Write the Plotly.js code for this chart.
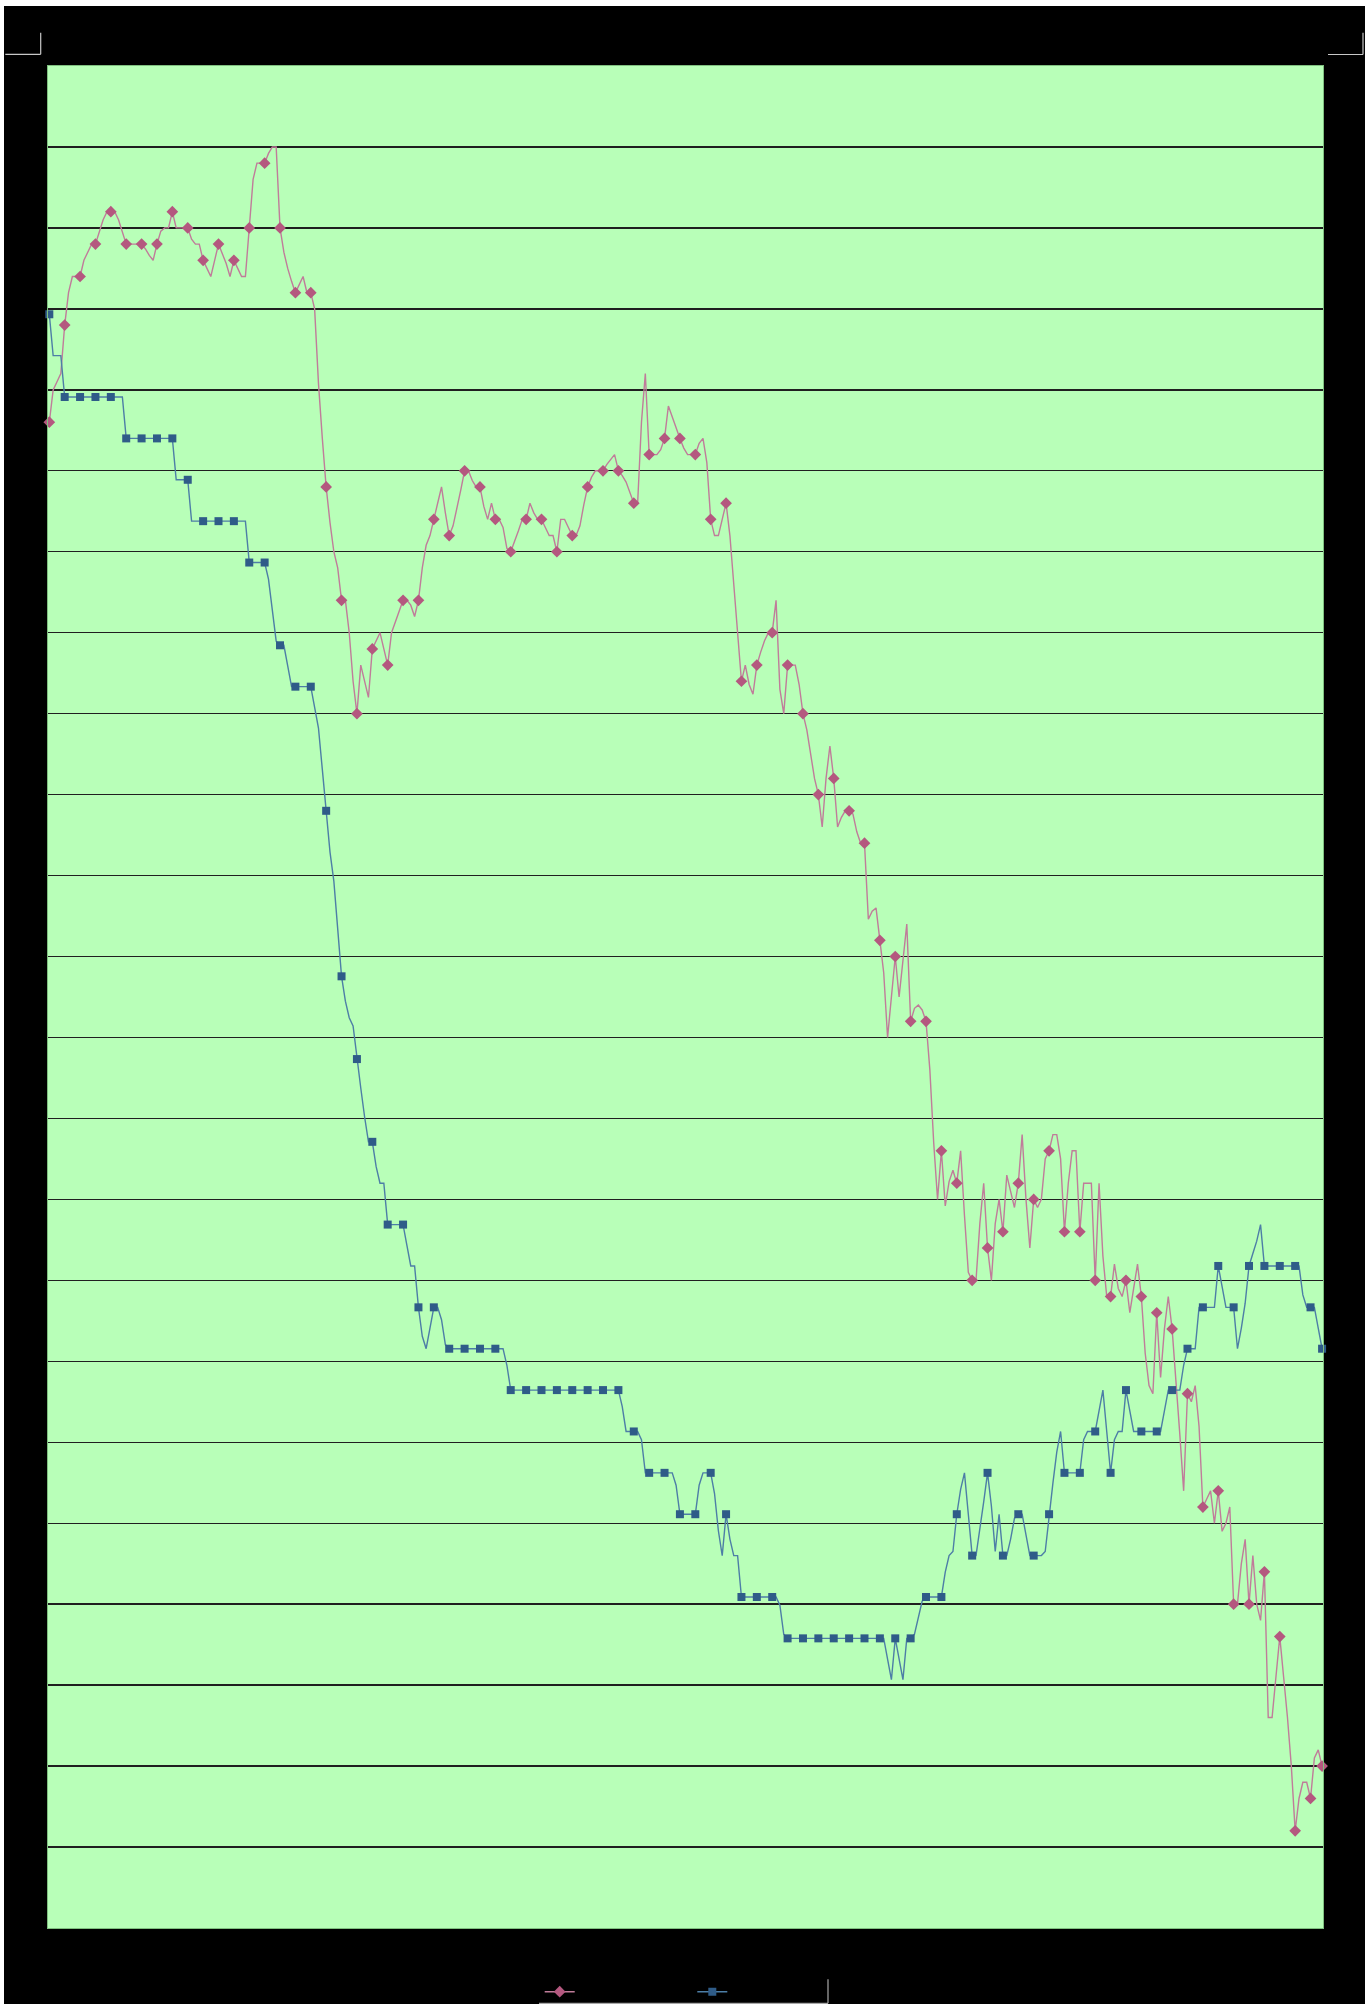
<!DOCTYPE html>
<html>
<head>
<meta charset="utf-8">
<script src="https://cdn.plot.ly/plotly-3.0.1.min.js"></script>
<style>
html, body { margin:0; padding:0; background:#ffffff; width:1372px; height:2004px; overflow:hidden; }
#chart { position:absolute; left:4px; top:6px; width:1361px; height:1998px; }
</style>
</head>
<body>
<div id="chart"></div>
<script>
// ---- data ----
const pinkSeries = [
  93, 95, 95.5, 96, 99, 101, 102, 102, 102, 103,
  103.5, 104, 104, 104.7, 105.5, 106, 106, 106, 105.5, 104.7,
  104, 104, 104, 104, 104, 103.7, 103.3, 103, 104, 104.8,
  105, 105, 106, 105, 105, 105, 105, 104.3, 104, 104,
  103, 102.5, 102, 103, 104, 103.4, 102.8, 102, 103, 102.5,
  102, 102, 105, 108, 109, 109, 109, 109.6, 110, 110,
  105, 103.5, 102.5, 101.7, 101, 101.5, 102, 101, 101, 100,
  95.4, 92, 89, 86.8, 85, 84, 82, 82, 80, 77,
  75, 78, 77, 76, 79, 79.5, 80, 79, 78, 80,
  80.7, 81.4, 82, 82, 81.7, 81, 82, 84, 85.4, 86,
  87, 88.2, 89, 87.4, 86, 86.6, 87.6, 88.8, 90, 90,
  89.4, 89, 89, 87.8, 87, 88, 87, 87, 86.5, 85.2,
  85, 85.6, 86.3, 87, 87, 88, 87.4, 87, 87, 86.5,
  86, 86, 85, 87, 87, 86.5, 86, 86, 86.6, 87.9,
  89, 89.6, 90, 90, 90, 90.4, 90.7, 91, 90, 89.7,
  89.3, 88.7, 88, 88, 93, 96, 91, 91, 91, 91.3,
  92, 94, 93.3, 92.6, 92, 91.4, 91, 91, 91, 91.7,
  92, 90.5, 87, 86, 86, 87, 88, 86, 83, 80.5,
  77, 78, 76.8, 76.2, 78, 78.8, 79.5, 80, 80, 82,
  76.5, 75, 78, 78, 78, 76.8, 75, 74, 72.5, 71,
  70, 68, 71, 73, 71, 68, 68.6, 69, 69, 68.8,
  67.7, 67, 67, 62.3, 62.8, 63, 61, 59, 55, 57.5,
  60, 57.5, 59.6, 62, 56, 56.8, 57, 56.7, 56, 53,
  48.5, 45, 48, 44.6, 46.1, 46.8, 46, 48, 44, 40.5,
  40, 40, 43.5, 46, 42, 40, 43.5, 45, 43, 46.5,
  45.5, 44.5, 46, 49, 45, 42, 45, 44.5, 45, 47.5,
  48, 49, 49, 47.5, 43, 46, 48, 48, 43, 46,
  46, 46, 40, 46, 41.5, 39, 39, 41, 39.5, 39,
  40, 38, 39.5, 41, 39, 35.5, 33.5, 33, 38, 34,
  37, 39, 37, 34, 30.5, 27, 33, 32.5, 33.5, 31,
  26, 26.5, 27, 25, 27, 24.5, 25, 26, 20, 20,
  22.5, 24, 20, 23, 20, 19, 22, 13, 13, 15.5,
  18, 15.5, 13, 10, 6, 8, 9, 9, 8, 10.5,
  11, 10
];

const blueSeries = [
  39, 38, 38, 38, 37, 37, 37, 37, 37, 37,
  37, 37, 37, 37, 37, 37, 37, 37, 37, 37,
  36, 36, 36, 36, 36, 36, 36, 36, 36, 36,
  36, 36, 36, 35, 35, 35, 35, 34, 34, 34,
  34, 34, 34, 34, 34, 34, 34, 34, 34, 34,
  34, 34, 33, 33, 33, 33, 33, 32.6, 31.8, 31.1,
  31, 31, 30.5, 30, 30, 30, 30, 30, 30, 29.5,
  29, 28, 27, 26, 25.3, 24.2, 23, 22.4, 22, 21.8,
  21, 20.3, 19.6, 19, 19, 18.4, 18, 18, 17, 17,
  17, 17, 17, 16.5, 16, 16, 15, 14.3, 14, 14.5,
  15, 15, 14.7, 14.1, 14, 14, 14, 14, 14, 14,
  14, 14, 14, 14, 14, 14, 14, 14, 14, 13.6,
  13, 13, 13, 13, 13, 13, 13, 13, 13, 13,
  13, 13, 13, 13, 13, 13, 13, 13, 13, 13,
  13, 13, 13, 13, 13, 13, 13, 13, 13, 12.6,
  12, 12, 12, 12, 11.8, 11, 11, 11, 11, 11,
  11, 11, 11, 10.7, 10, 10, 10, 10, 10, 10.7,
  11, 11, 11, 10.5, 9.6, 9, 10, 9.4, 9, 9,
  8, 8, 8, 8, 8, 8, 8, 8, 8, 8,
  7.8, 7.1, 7, 7, 7, 7, 7, 7, 7, 7,
  7, 7, 7, 7, 7, 7, 7, 7, 7, 7,
  7, 7, 7, 7, 7, 7, 7, 7, 6.5, 6,
  7, 6.5, 6, 7, 7, 7.1, 7.5, 7.9, 8, 8,
  8, 8, 8, 8.6, 9, 9.1, 10, 10.6, 11, 10,
  9, 9, 9.6, 10.3, 11, 10.2, 9.1, 10, 9, 9,
  9.4, 9.9, 10, 10, 9.5, 9, 9, 9, 9, 9.1,
  10, 10.75, 11.5, 12, 11, 11, 11, 11, 11, 11.8,
  12, 12, 12, 12.5, 13, 12, 11, 11.8, 12, 12,
  13, 12.5, 12, 12, 12, 12, 12, 12, 12, 12,
  12.5, 13, 13, 13, 13, 13.6, 14, 14, 14, 15,
  15, 15, 15, 15, 16, 15.5, 15, 15, 15, 14,
  14.5, 15.1, 16, 16.3, 16.6, 17, 16, 16, 16, 16,
  16, 16, 16, 16, 16, 16, 15.3, 15, 15, 15,
  14.5, 14
];

const seriesNames = ['', ''];
const pointIndex = pinkSeries.map((_, i) => i);

// ---- styling ----
const PINK_LINE = '#c07c9a';
const PINK_MARK = '#b4587f';
const BLUE_LINE = '#4d7ea6';
const BLUE_MARK = '#2f5c88';
const HIDDEN = 'rgba(0,0,0,0)';
const last = pointIndex.length - 1;
const showMark = i => (i % 4 === 0 || i === last);
const pinkMarkColors = pointIndex.map(i => showMark(i) ? PINK_MARK : HIDDEN);
const blueMarkColors = pointIndex.map(i => showMark(i) ? BLUE_MARK : HIDDEN);

const traces = [
  {
    type: 'scatter', mode: 'lines+markers', name: seriesNames[0],
    x: pointIndex, y: pinkSeries, yaxis: 'y', legend: 'legend',
    line: { color: PINK_LINE, width: 1.4 },
    marker: { symbol: 'diamond', size: 9, color: pinkMarkColors, line: { width: 0 } },
    cliponaxis: false, hoverinfo: 'skip'
  },
  {
    type: 'scatter', mode: 'lines+markers', name: seriesNames[1],
    x: pointIndex, y: blueSeries, yaxis: 'y2', legend: 'legend2',
    line: { color: BLUE_LINE, width: 1.4 },
    marker: { symbol: 'square', size: 8, color: blueMarkColors, line: { width: 0 } },
    cliponaxis: false, hoverinfo: 'skip'
  }
];

// pixel helpers for paper coordinates (plot area: x 48..1323, y 66..1928 in page pixels)
const px = v => (v - 48) / 1275;
const py = v => (1928 - v) / 1862;
const MARK = '#c8c8c8';
const FRAME = '#a8a8a8';

const layout = {
  width: 1361, height: 1998,
  margin: { l: 44, r: 42, t: 60, b: 76, pad: 0, autoexpand: false },
  paper_bgcolor: '#000000',
  plot_bgcolor: '#b8ffb8',
  showlegend: true,
  xaxis: {
    range: [-0.34, 331.24], showgrid: false, zeroline: false,
    showticklabels: false, ticks: '', showline: true, mirror: true,
    linecolor: '#7fbf7f', linewidth: 1, fixedrange: true
  },
  yaxis: {
    range: [0, 115], dtick: 5, tick0: 0, showgrid: true,
    gridcolor: '#1f1f1f', gridwidth: 1.4, zeroline: false,
    showticklabels: false, ticks: '', showline: true, mirror: true,
    linecolor: '#7fbf7f', linewidth: 1, fixedrange: true
  },
  yaxis2: {
    range: [0, 45], overlaying: 'y', side: 'right', showgrid: false,
    zeroline: false, showticklabels: false, ticks: '', showline: false,
    fixedrange: true
  },
  legend: {
    x: px(539.7), y: py(1977.2), xanchor: 'left', yanchor: 'top',
    orientation: 'h', bgcolor: 'rgba(0,0,0,0)', borderwidth: 0,
    font: { size: 10, color: '#000000' }, itemwidth: 30
  },
  legend2: {
    x: px(692.3), y: py(1977.2), xanchor: 'left', yanchor: 'top',
    orientation: 'h', bgcolor: 'rgba(0,0,0,0)', borderwidth: 0,
    font: { size: 10, color: '#000000' }, itemwidth: 30
  },
  shapes: [
    // crop marks top-left
    { type: 'line', xref: 'paper', yref: 'paper', x0: px(40.7), x1: px(40.7), y0: py(32.7), y1: py(54.3), line: { color: MARK, width: 1.2 } },
    { type: 'line', xref: 'paper', yref: 'paper', x0: px(5.3), x1: px(40.7), y0: py(54.3), y1: py(54.3), line: { color: MARK, width: 1.2 } },
    // crop marks top-right
    { type: 'line', xref: 'paper', yref: 'paper', x0: px(1363), x1: px(1363), y0: py(32.7), y1: py(54.5), line: { color: MARK, width: 1.2 } },
    { type: 'line', xref: 'paper', yref: 'paper', x0: px(1328), x1: px(1363), y0: py(54.5), y1: py(54.5), line: { color: MARK, width: 1.2 } },
    // legend frame (bottom and right edges)
    { type: 'line', xref: 'paper', yref: 'paper', x0: px(539), x1: px(828), y0: py(2003.3), y1: py(2003.3), line: { color: FRAME, width: 1.2 } },
    { type: 'line', xref: 'paper', yref: 'paper', x0: px(828), x1: px(828), y0: py(1979.3), y1: py(2003.3), line: { color: FRAME, width: 1.2 } }
  ]
};

Plotly.newPlot('chart', traces, layout, { displayModeBar: false, staticPlot: true });
</script>
</body>
</html>
